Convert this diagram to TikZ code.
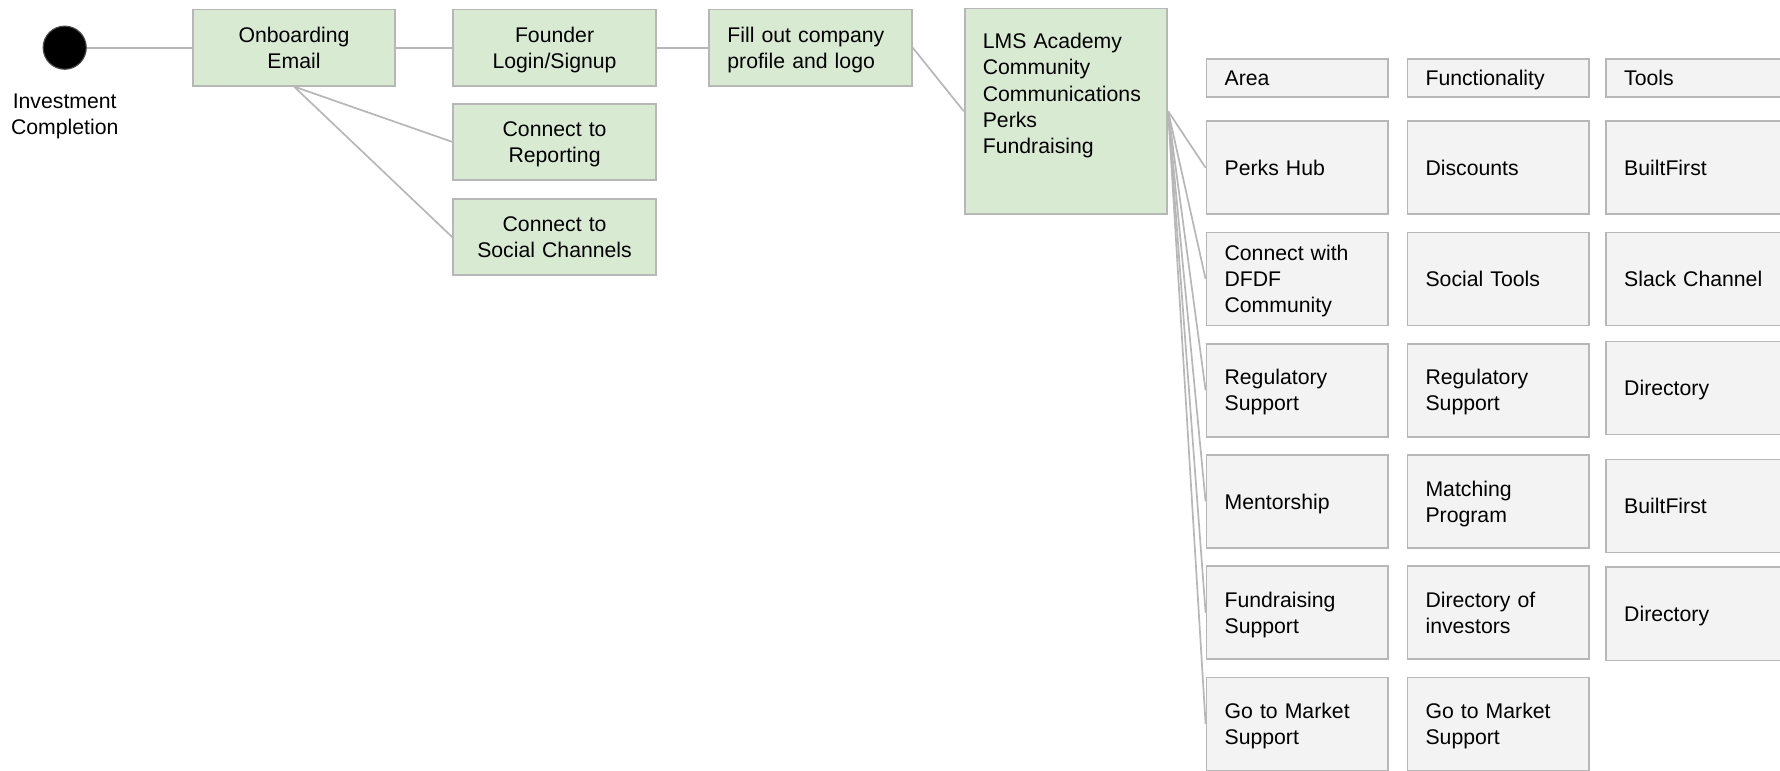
\documentclass[tikz,border=0pt]{standalone}
\usepackage{fontspec}
\setmainfont{Liberation Sans}
\usetikzlibrary{positioning}
\definecolor{boxgreen}{RGB}{217, 234, 211}
\definecolor{boxgray}{RGB}{243, 243, 243}
\definecolor{edgegray}{RGB}{183, 183, 183}
\newcommand{\cellstrut}{\rule[-4.8pt]{0pt}{23pt}}
\tikzstyle{greenbox} = [rectangle, minimum width=178.5pt, minimum height=67pt, text width=160pt, inner xsep=9.25pt, inner ysep=0pt, align=center, draw=edgegray, fill=boxgreen, line width=1.5pt, execute at begin node=\cellstrut, execute at end node=\cellstrut]
\tikzstyle{cell} = [rectangle, minimum width=160pt, minimum height=82pt, text width=128pt, inner xsep=16pt, inner ysep=0pt, align=left, draw=edgegray, fill=boxgray, line width=1.5pt, execute at begin node=\cellstrut, execute at end node=\cellstrut]
\tikzstyle{headcell} = [cell, minimum height=34pt]
\tikzstyle{link} = [draw=edgegray, line width=1.5pt]

\begin{document}
\begin{tikzpicture}[x=1pt, y=-1pt, every node/.style={font=\fontsize{18.7}{23}\selectfont}]
\useasboundingbox (0,0) rectangle (1568,679);
\clip (0,0) rectangle (1568,679);

% Start
\node (start) [circle, fill=black, draw=gray!60!black, line width=1pt, minimum size=38pt, inner sep=0pt] at (57,42) {};
\node (startlabel) [below=21pt of start, align=center, inner sep=0pt] {Investment\\Completion};

% Onboarding steps
\node (onboard) [greenbox, right=92.5pt of start] {Onboarding\\Email};
\node (founder) [greenbox, right=49.5pt of onboard] {Founder\\Login/Signup};
\node (report) [greenbox, below=14.5pt of founder] {Connect to\\Reporting};
\node (social) [greenbox, below=15.5pt of report] {Connect to\\Social Channels};
\node (profile) [greenbox, right=45.5pt of founder, text width=146.5pt, inner xsep=16pt, align=left] {Fill out company\\profile and logo};
\node (lms) [greenbox, right=45pt of profile.north east, anchor=north west, yshift=1pt, text width=146.5pt, inner xsep=16pt, align=left] {\parbox[c][181pt][t]{146.5pt}{\vspace*{22pt}LMS Academy\\Community\\Communications\\Perks\\Fundraising}};

% Header row
\node (area) [headcell, anchor=north west] at (1062,51) {Area};
\node (func) [headcell, right=15.5pt of area] {Functionality};
\node (tools) [headcell, right=13.5pt of func] {Tools};

% Area column
\node (perks) [cell, below=19.5pt of area] {Perks Hub};
\node (dfdf) [cell, below=14.5pt of perks] {Connect with\\DFDF\\Community};
\node (regul) [cell, below=14.5pt of dfdf] {Regulatory\\Support};
\node (mentor) [cell, below=14.5pt of regul] {Mentorship};
\node (fund) [cell, below=14.5pt of mentor] {Fundraising\\Support};
\node (market) [cell, below=14.5pt of fund] {Go to Market\\Support};

% Functionality column
\node (discount) [cell, below=19.5pt of func] {Discounts};
\node (socialtools) [cell, below=14.5pt of discount] {Social Tools};
\node (regulfunc) [cell, below=14.5pt of socialtools] {Regulatory\\Support};
\node (matching) [cell, below=14.5pt of regulfunc] {Matching\\Program};
\node (investors) [cell, below=14.5pt of matching] {Directory of\\investors};
\node (marketfunc) [cell, below=14.5pt of investors] {Go to Market\\Support};

% Tools column
\node (built) [cell, below=19.5pt of tools] {BuiltFirst};
\node (slack) [cell, below=14.5pt of built] {Slack Channel};
\node (dir) [cell, below=12.5pt of slack] {Directory};
\node (builttwo) [cell, below=20.5pt of dir] {BuiltFirst};
\node (dirtwo) [cell, below=11.5pt of builttwo] {Directory};

% Connectors
\draw [link] (start) -- (onboard);
\draw [link] (onboard) -- (founder);
\draw [link] (onboard.south) -- (report.west);
\draw [link] (onboard.south) -- (social.west);
\draw [link] (founder) -- (profile);
\draw [link] (profile.east) -- (lms.west);
\draw [link] (lms.east) -- (perks.west);
\draw [link] (lms.east) -- (dfdf.west);
\draw [link] (lms.east) -- (regul.west);
\draw [link] (lms.east) -- (mentor.west);
\draw [link] (lms.east) -- (fund.west);
\draw [link] (lms.east) -- (market.west);

\end{tikzpicture}
\end{document}
